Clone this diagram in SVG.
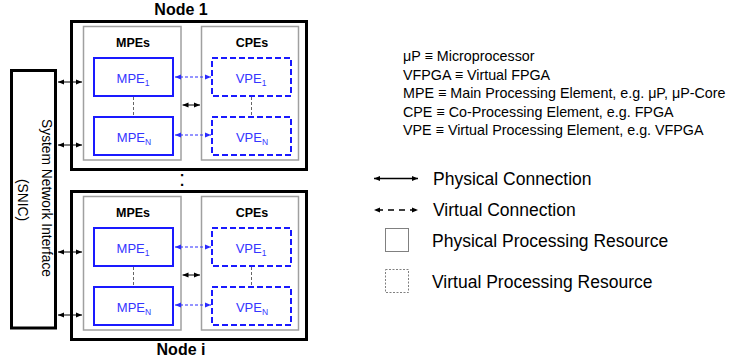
<svg xmlns="http://www.w3.org/2000/svg" width="733" height="362" viewBox="0 0 733 362">
<style>
  text { font-family: "Liberation Sans", Arial, sans-serif; }
  .thick { fill: none; stroke: #000; stroke-width: 3; }
  .group { fill: none; stroke: #a0a0a0; stroke-width: 1.5; }
  .pe { fill: none; stroke: #1a1aff; stroke-width: 2; }
  .vpe { fill: none; stroke: #1a1aff; stroke-width: 2; stroke-dasharray: 6 3; }
  .title { font-size: 16px; font-weight: bold; text-anchor: middle; fill: #000; }
  .grp { font-size: 12.5px; font-weight: bold; text-anchor: middle; fill: #000; }
  .pet { font-size: 13px; text-anchor: middle; fill: #3535ff; }
  .phys { stroke: #000; stroke-width: 1; fill: none; marker-start: url(#ahb); marker-end: url(#ahb); }
  .virt { stroke: #2a2aff; stroke-width: 1; stroke-dasharray: 3 2; fill: none; marker-start: url(#ahblue); marker-end: url(#ahblue); }
  .link { stroke: #666; stroke-width: 1; stroke-dasharray: 3 2; fill: none; }
  .leg { font-size: 14.3px; fill: #000; }
  .leg2 { font-size: 17.5px; fill: #000; }
  .snic { font-size: 13.8px; text-anchor: middle; fill: #000; }
</style>
<defs>
  <marker id="ahb" markerUnits="userSpaceOnUse" markerWidth="6" markerHeight="6" refX="6" refY="3" orient="auto-start-reverse">
    <path d="M0,0.5 L6,3 L0,5.5 z" fill="#000"/>
  </marker>
  <marker id="ahblue" markerUnits="userSpaceOnUse" markerWidth="6" markerHeight="6" refX="6" refY="3" orient="auto-start-reverse">
    <path d="M0,0.5 L6,3 L0,5.5 z" fill="#2a2aff"/>
  </marker>
</defs>
<rect width="733" height="362" fill="#fff"/>

<g id="snic">
  <rect x="11.5" y="70.5" width="44" height="257.5" class="thick"/>
  <text class="snic" transform="translate(42,198) rotate(90)">System Network Interface</text>
  <text class="snic" transform="translate(18,200) rotate(90)">(SNIC)</text>
</g>

<g id="node1">
  <rect x="71.5" y="21.5" width="235" height="148" class="thick"/>
  <text x="181" y="14.5" class="title">Node 1</text>
  <g id="node1-mpes">
    <rect x="83.5" y="26.5" width="97.5" height="133.5" class="group"/>
    <text x="133" y="46.5" class="grp">MPEs</text>
  </g>
  <g id="node1-cpes">
    <rect x="201.5" y="26.5" width="97" height="133.5" class="group"/>
    <text x="252" y="46.5" class="grp">CPEs</text>
  </g>
  <g id="node1-mpe1">
    <rect x="94" y="58" width="79" height="38" class="pe"/>
    <text x="133" y="82.5" class="pet">MPE<tspan dy="3" font-size="8.5">1</tspan></text>
  </g>
  <g id="node1-mpen">
    <rect x="94" y="117" width="79" height="38" class="pe"/>
    <text x="134" y="141.5" class="pet">MPE<tspan dy="3" font-size="8.5">N</tspan></text>
  </g>
  <g id="node1-vpe1">
    <rect x="212" y="58" width="79" height="38" class="vpe"/>
    <text x="251" y="82.5" class="pet">VPE<tspan dy="3" font-size="8.5">1</tspan></text>
  </g>
  <g id="node1-vpen">
    <rect x="212" y="117" width="79" height="38" class="vpe"/>
    <text x="252" y="141.5" class="pet">VPE<tspan dy="3" font-size="8.5">N</tspan></text>
  </g>
</g>

<g id="nodei">
  <rect x="71.5" y="191.5" width="235" height="148" class="thick"/>
  <text x="181" y="355" class="title">Node i</text>
  <g id="nodei-mpes">
    <rect x="83.5" y="196.5" width="97.5" height="133.5" class="group"/>
    <text x="133" y="216.5" class="grp">MPEs</text>
  </g>
  <g id="nodei-cpes">
    <rect x="201.5" y="196.5" width="97" height="133.5" class="group"/>
    <text x="252" y="216.5" class="grp">CPEs</text>
  </g>
  <g id="nodei-mpe1">
    <rect x="94" y="228" width="79" height="38" class="pe"/>
    <text x="133" y="252.5" class="pet">MPE<tspan dy="3" font-size="8.5">1</tspan></text>
  </g>
  <g id="nodei-mpen">
    <rect x="94" y="287" width="79" height="38" class="pe"/>
    <text x="134" y="311.5" class="pet">MPE<tspan dy="3" font-size="8.5">N</tspan></text>
  </g>
  <g id="nodei-vpe1">
    <rect x="212" y="228" width="79" height="38" class="vpe"/>
    <text x="251" y="252.5" class="pet">VPE<tspan dy="3" font-size="8.5">1</tspan></text>
  </g>
  <g id="nodei-vpen">
    <rect x="212" y="287" width="79" height="38" class="vpe"/>
    <text x="252" y="311.5" class="pet">VPE<tspan dy="3" font-size="8.5">N</tspan></text>
  </g>
</g>

<text x="182" y="186" font-size="22" text-anchor="middle" fill="#000">:</text>

<g id="connectors">
  <line x1="58" y1="82" x2="82" y2="82" class="phys"/>
  <line x1="58" y1="145" x2="82" y2="145" class="phys"/>
  <line x1="182.5" y1="105" x2="200" y2="105" class="phys"/>
  <line x1="175" y1="77" x2="211" y2="77" class="virt"/>
  <line x1="175" y1="135" x2="211" y2="135" class="virt"/>
  <line x1="133.5" y1="97" x2="133.5" y2="116" class="link"/>
  <line x1="251.5" y1="97" x2="251.5" y2="116" class="link"/>

  <line x1="58" y1="252" x2="82" y2="252" class="phys"/>
  <line x1="58" y1="315" x2="82" y2="315" class="phys"/>
  <line x1="182.5" y1="275" x2="200" y2="275" class="phys"/>
  <line x1="175" y1="247" x2="211" y2="247" class="virt"/>
  <line x1="175" y1="305" x2="211" y2="305" class="virt"/>
  <line x1="133.5" y1="267" x2="133.5" y2="286" class="link"/>
  <line x1="251.5" y1="267" x2="251.5" y2="286" class="link"/>
</g>

<g id="legend">
  <text x="403" y="61" class="leg">μP ≡ Microprocessor</text>
  <text x="403" y="79.5" class="leg">VFPGA ≡ Virtual FPGA</text>
  <text x="403" y="98" class="leg">MPE ≡ Main Processing Element, e.g. μP, μP-Core</text>
  <text x="403" y="116.5" class="leg">CPE ≡ Co-Processing Element, e.g. FPGA</text>
  <text x="403" y="135" class="leg">VPE ≡ Virtual Processing Element, e.g. VFPGA</text>

  <line x1="374" y1="178.5" x2="418" y2="178.5" stroke="#000" stroke-width="1.5" marker-start="url(#ahb)" marker-end="url(#ahb)"/>
  <text x="433" y="184.5" class="leg2">Physical Connection</text>
  <line x1="374" y1="210" x2="418" y2="210" stroke="#000" stroke-width="1.5" stroke-dasharray="6 5" stroke-dashoffset="-3" marker-start="url(#ahb)" marker-end="url(#ahb)"/>
  <text x="433" y="216" class="leg2">Virtual Connection</text>
  <rect x="385.5" y="228.5" width="23" height="23" fill="none" stroke="#808080" stroke-width="1"/>
  <text x="432" y="247" class="leg2">Physical Processing Resource</text>
  <rect x="385.5" y="269.5" width="23" height="23" fill="none" stroke="#808080" stroke-width="1" stroke-dasharray="2 1.5"/>
  <text x="432" y="288" class="leg2">Virtual Processing Resource</text>
</g>
</svg>
